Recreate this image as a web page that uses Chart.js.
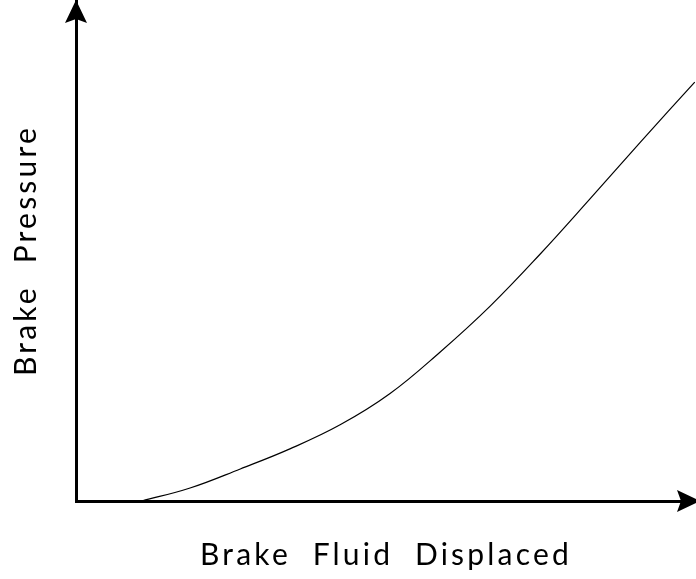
<!DOCTYPE html>
<html>
<head>
<meta charset="utf-8">
<script src="https://cdn.jsdelivr.net/npm/chart.js@4"></script>
<style>
  html, body { margin: 0; padding: 0; background: #ffffff; }
  #wrap { width: 696px; height: 579px; }
</style>
</head>
<body>
<div id="wrap"><canvas id="pressureChart"></canvas></div>
<script>
// curve (arbitrary units, 0..100 on both axes)
const fluidDisplaced = [10.6, 18.4, 26.5, 34.5, 42.6, 50.6, 58.7, 66.8, 74.8, 82.9, 91.0, 99.8];
const brakePressure  = [0.0, 2.6, 6.4, 10.4, 15.2, 21.4, 29.7, 38.9, 49.2, 60.3, 71.6, 83.6];

const xTitle = 'Brake  Fluid  Displaced';
const yTitle = 'Brake  Pressure';

// wider letters, like the original lettering
function setSpacing(chart) {
  chart.ctx.letterSpacing = '3.2px';
}

const arrowAxes = {
  id: 'arrowAxes',
  beforeUpdate(chart) { setSpacing(chart); },
  beforeDraw(chart) { setSpacing(chart); },
  afterDraw(chart) {
    const ctx = chart.ctx;
    const x0 = chart.scales.x.left;
    const y0 = chart.scales.y.bottom;
    const xEnd = chart.scales.x.right;
    const yEnd = chart.scales.y.top;
    ctx.save();
    ctx.fillStyle = '#000000';
    // up arrow
    ctx.beginPath();
    ctx.moveTo(x0, yEnd);
    ctx.lineTo(x0 + 11, yEnd + 23);
    ctx.lineTo(x0, yEnd + 19);
    ctx.lineTo(x0 - 11, yEnd + 23);
    ctx.closePath();
    ctx.fill();
    // right arrow
    ctx.beginPath();
    ctx.moveTo(xEnd + 4, y0);
    ctx.lineTo(xEnd - 19, y0 - 11);
    ctx.lineTo(xEnd - 15, y0);
    ctx.lineTo(xEnd - 19, y0 + 11);
    ctx.closePath();
    ctx.fill();
    ctx.restore();
  }
};

const ctx = document.getElementById('pressureChart').getContext('2d');
new Chart(ctx, {
  type: 'line',
  data: {
    datasets: [{
      data: fluidDisplaced.map((v, i) => ({ x: v, y: brakePressure[i] })),
      borderColor: '#000000',
      borderWidth: 1.2,
      pointRadius: 0,
      tension: 0.4,
      fill: false
    }]
  },
  options: {
    responsive: true,
    maintainAspectRatio: false,
    animation: false,
    layout: { padding: { left: 4, top: 0, right: 0, bottom: 4 } },
    scales: {
      x: {
        type: 'linear',
        min: 0,
        max: 100,
        grid: { display: false, drawTicks: false },
        border: { display: true, color: '#000000', width: 3 },
        ticks: { display: false },
        title: {
          display: true,
          text: xTitle,
          color: '#000000',
          font: { family: 'Lato', size: 30 },
          padding: { top: 36, bottom: 2 }
        }
      },
      y: {
        min: 0,
        max: 100,
        grid: { display: false, drawTicks: false },
        border: { display: true, color: '#000000', width: 3 },
        ticks: { display: false },
        title: {
          display: true,
          text: yTitle,
          color: '#000000',
          font: { family: 'Lato', size: 30 },
          padding: { top: 4, bottom: 32 }
        }
      }
    },
    plugins: {
      legend: { display: false },
      tooltip: { enabled: false }
    }
  },
  plugins: [arrowAxes]
});
</script>
</body>
</html>
